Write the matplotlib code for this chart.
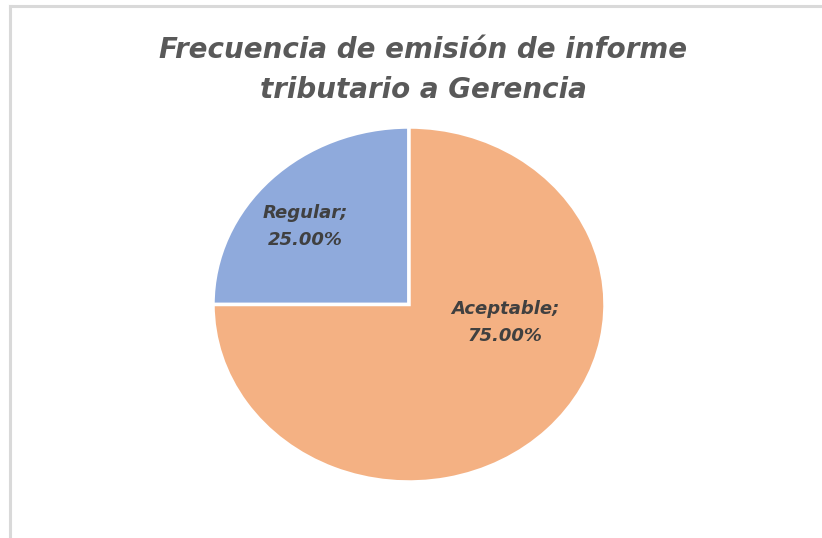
import matplotlib
matplotlib.use('Agg')

import matplotlib.pyplot as plt
from matplotlib.lines import Line2D

categorias = ["Regular", "Aceptable"]
porcentajes = [25.0, 75.0]
colores = ["#8FAADC", "#F4B183"]
titulo = "Frecuencia de emisión de informe\ntributario a Gerencia"

fig = plt.figure(figsize=(8.22, 5.38), dpi=100)

# marco gris (solo arriba e izquierda, como en la imagen)
fig.add_artist(Line2D([9.5 / 822, 9.5 / 822], [0, 1 - 6 / 538], color="#d9d9d9", lw=2.2,
                      transform=fig.transFigure))
fig.add_artist(Line2D([9.5 / 822, 1], [1 - 6 / 538, 1 - 6 / 538], color="#d9d9d9", lw=2.2,
                      transform=fig.transFigure))

ax = fig.add_axes([213 / 822, 56 / 538, 392 / 822, 355 / 538])
wedges, texts = ax.pie(porcentajes, colors=colores, startangle=90, counterclock=True,
                       wedgeprops=dict(edgecolor="white", linewidth=2.5))
ax.set_aspect('auto')
ax.set_xlim(-1, 1)
ax.set_ylim(-1, 1)

# posiciones de las etiquetas
pos = [(-0.53, 0.44), (0.49, -0.10)]
for cat, p, xy in zip(categorias, porcentajes, pos):
    ax.text(xy[0], xy[1], f"{cat};\n{p:.2f}%", ha="center", va="center",
            fontsize=13, fontweight="bold", fontstyle="italic", color="#404040",
            linespacing=1.65)

fig.text(423 / 822, 1 - 70 / 538, titulo, ha="center", va="center", fontsize=20,
         fontweight="bold", fontstyle="italic", color="#595959", linespacing=1.5)

plt.savefig("out.png", dpi=100)
